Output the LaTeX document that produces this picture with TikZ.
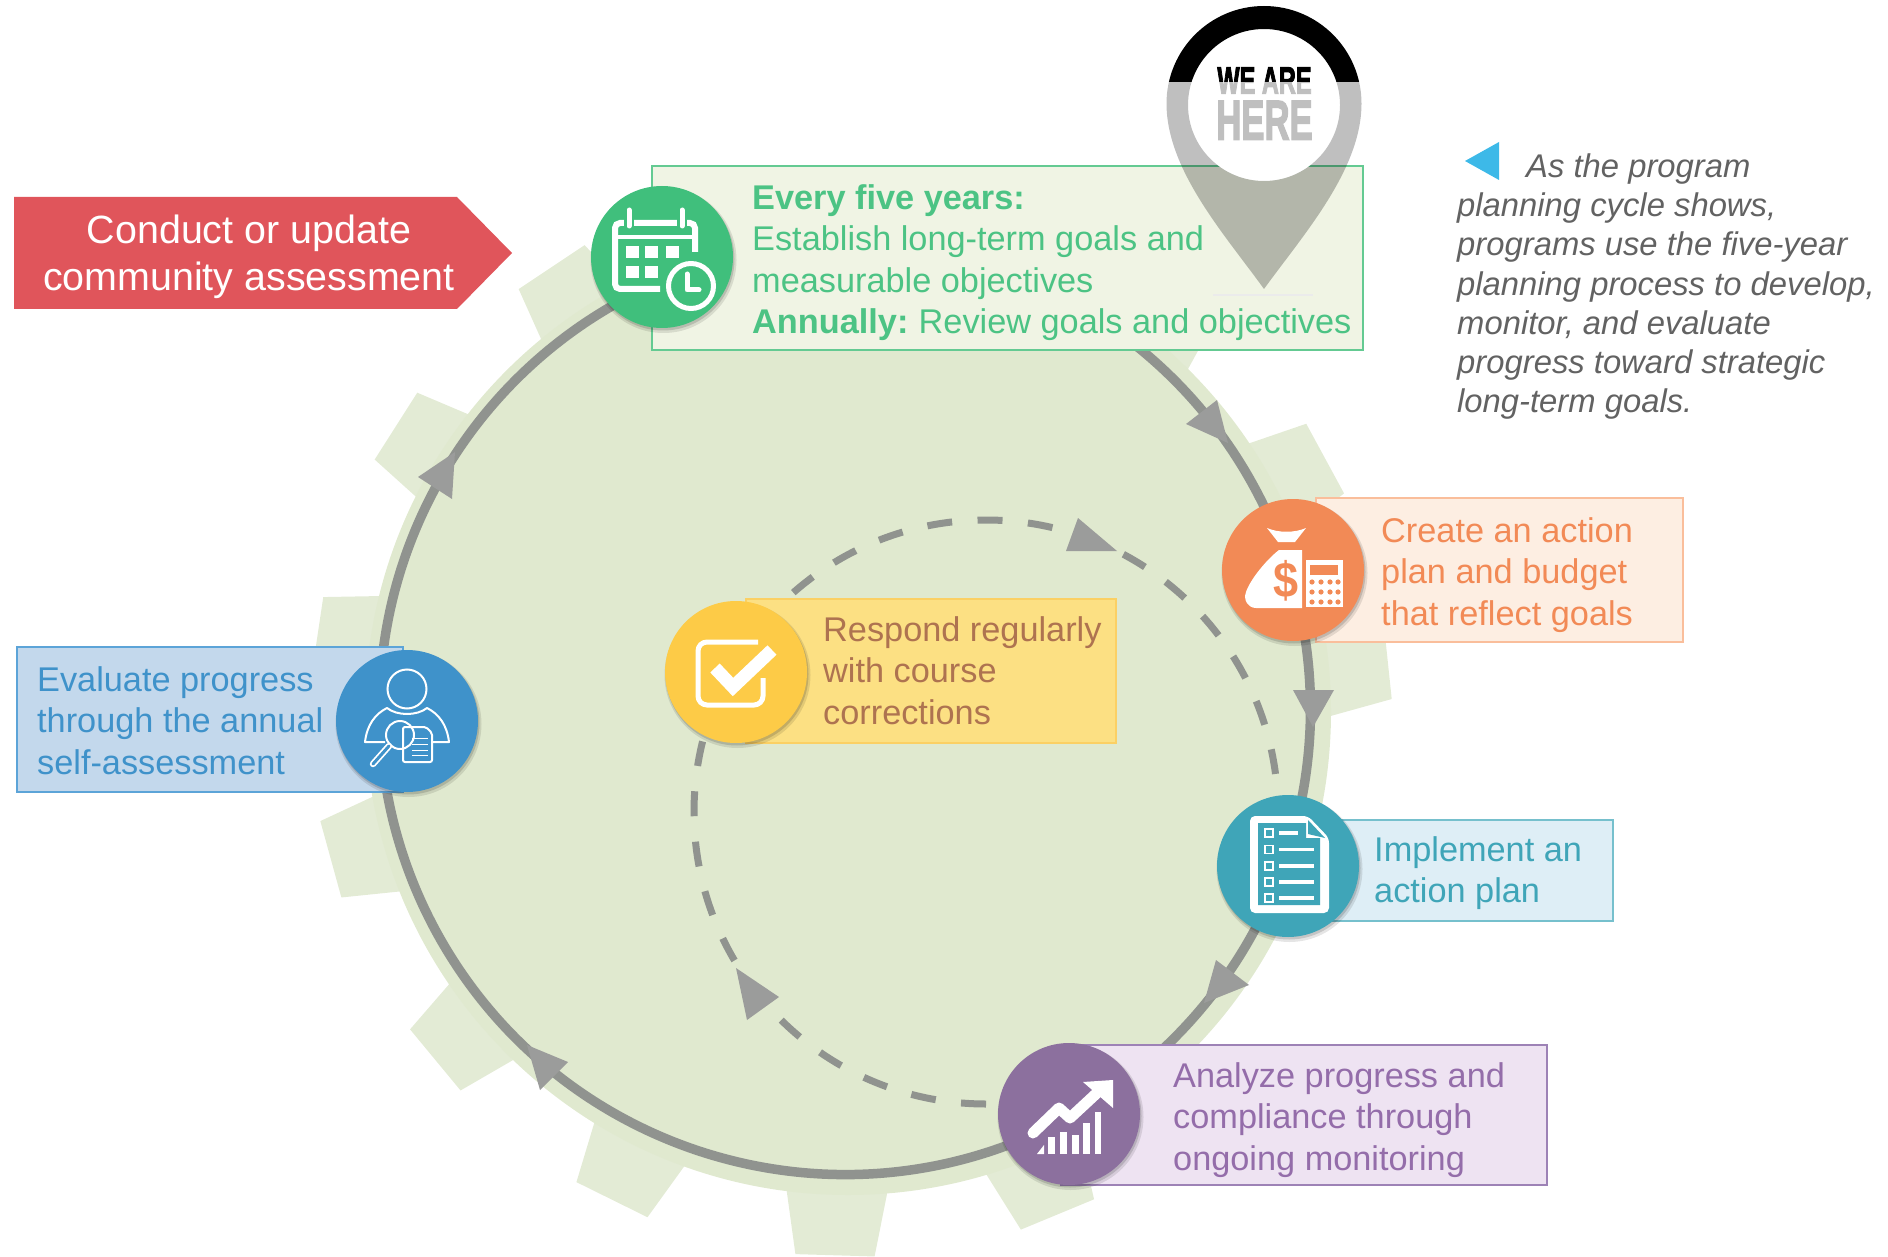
\documentclass[tikz,border=0pt]{standalone}
\usepackage{fontspec}
\setmainfont{Liberation Sans}
\newfontfamily\heavyf[BoldFeatures={FakeBold=3}]{Liberation Sans}
\usetikzlibrary{calc}
\definecolor{gear}{HTML}{E0E9CF}
\definecolor{tooth}{HTML}{E3EBD5}
\definecolor{ringc}{HTML}{90938F}
\definecolor{tipc}{HTML}{9B9C9B}
\definecolor{cgreen}{HTML}{40BF7C}
\definecolor{corange}{HTML}{F28A56}
\definecolor{cteal}{HTML}{3FA5B8}
\definecolor{cpurple}{HTML}{8C709E}
\definecolor{cblue}{HTML}{3F92CA}
\definecolor{cyellow}{HTML}{FDCB47}
\definecolor{tyellow}{HTML}{AE7350}
\definecolor{tgreenc}{HTML}{4CC384}
\definecolor{tpurplec}{HTML}{946DAA}
\tikzset{
  disc/.style={circle,minimum size=142,inner sep=0,draw=none},
  panel/.style={rectangle,anchor=north west,inner sep=0,line width=2.4},
  lbl/.style={anchor=north west,inner sep=0,align=left,font=\fontsize{34.3}{41.6}\selectfont},
  ringline/.style={draw=ringc,line width=9.5},
  dashline/.style={draw=ringc,line width=7,dash pattern=on 25 off 25.5},
  head/.style={fill=tipc},
  ico/.style={draw=white,fill=none,line width=5},
  thin/.style={draw=white,fill=none,line width=2}
}
\newcommand{\toothat}[1]{%
  \fill[tooth] ($(851,716)+(#1-6.5:465)$) -- ($(851,716)+(#1-4.2:541)$) -- ($(851,716)+(#1+4.2:541)$) -- ($(851,716)+(#1+6.5:465)$) -- cycle;}
\newcommand{\discshadow}[2]{%
  \fill[black,opacity=.10] (#1+1.5,#2+3) circle[radius=73];
  \fill[black,opacity=.14] (#1+1,#2+2) circle[radius=71.5];}
\begin{document}
\begin{tikzpicture}[x=1pt,y=-1pt]
\useasboundingbox (0,0) rectangle (1888,1257);
% gear
\foreach \a in {-6,67.5,91.7,116.3,140.4,164.6,188.5,212.5,236.3,260.3,284.3,308.3,331.5}{\toothat{\a}}
\fill[gear] (848,712) circle[radius=483];
% cycle coordinates
\coordinate (rc) at (845,709);
\coordinate (dc) at (986,812);
\coordinate (r1) at ($(rc)+(248:465.5)$);
\coordinate (r2) at ($(rc)+(343:465.5)$);
\coordinate (r3) at ($(rc)+(19.5:465.5)$);
\coordinate (r4) at ($(rc)+(61:465.5)$);
\coordinate (r5) at ($(rc)+(178.4:465.5)$);
\coordinate (d1) at ($(dc)+(90:292)$);
\draw[ringline] (r1) arc[start angle=248,end angle=343,radius=465.5];
\draw[ringline] (r2) arc[start angle=343,end angle=379.5,radius=465.5];
\draw[ringline] (r3) arc[start angle=19.5,end angle=61,radius=465.5];
\draw[ringline] (r4) arc[start angle=61,end angle=178.4,radius=465.5];
\draw[ringline] (r5) arc[start angle=178.4,end angle=248,radius=465.5];
\draw[dashline] (d1) arc[start angle=90,end angle=353,radius=292];
% arrowheads
\fill[head] (1217,400) -- (1186,424) -- (1228,443) -- cycle;
\fill[head] (1293,690) -- (1334,690) -- (1313,727) -- cycle;
\fill[head] (1216,960) -- (1249,985) -- (1204,1003) -- cycle;
\fill[head] (568,1062) -- (540,1090) -- (527,1045) -- cycle;
\fill[head] (418,477) -- (452,499) -- (455,452) -- cycle;
\fill[head] (747,1020) -- (779,997) -- (736,968) -- cycle;
\fill[head] (1078,518) -- (1066,551) -- (1117,551) -- cycle;
% red banner
\fill[fill={rgb,255:red,224;green,85;blue,91}] (14,197) -- (457,197) -- (512,253) -- (457,309) -- (14,309) -- cycle;
\node[inner sep=0,align=center,text=white,font=\fontsize{39.4}{47}\selectfont] (redlabel) at (249,256.5) {Conduct or update\\community assessment};
% panels
\node[panel,draw={rgb,255:red,100;green,202;blue,146},fill={rgb,255:red,240;green,244;blue,228},minimum width=711,minimum height=184] (pgreen) at (651,165) {};
\node[panel,draw={rgb,255:red,250;green,190;blue,155},fill={rgb,255:red,253;green,238;blue,226},minimum width=367,minimum height=143.5] (porange) at (1315,497) {};
\node[panel,draw={rgb,255:red,118;green,192;blue,205},fill={rgb,255:red,222;green,238;blue,246},minimum width=297,minimum height=100.5] (pteal) at (1315,819) {};
\node[panel,draw={rgb,255:red,157;green,130;blue,182},fill={rgb,255:red,238;green,227;blue,242},minimum width=486,minimum height=139.5] (ppurple) at (1060,1044) {};
\node[panel,draw={rgb,255:red,92;green,164;blue,216},fill={rgb,255:red,195;green,216;blue,236},minimum width=386,minimum height=144.5] (pblue) at (16,646) {};
\node[panel,draw={rgb,255:red,251;green,208;blue,100},fill={rgb,255:red,252;green,224;blue,131},minimum width=370,minimum height=143.5] (pyellow) at (745,598) {};
% labels
\node[lbl,text=tgreenc] (tgreen) at (752,184) {\textbf{Every five years:}\\Establish long-term goals and\\measurable objectives\\\textbf{Annually:}\hspace{-2.5pt} Review goals and objectives};
\node[lbl,text=corange] (torange) at (1381,517) {Create an action\\plan and budget\\that reflect goals};
\node[lbl,text=cteal] (tteal) at (1374,836) {Implement an\\action plan};
\node[lbl,text=tpurplec] (tpurple) at (1173,1062) {Analyze progress and\\compliance through\\ongoing monitoring};
\node[lbl,text=cblue] (tblue) at (37,666) {Evaluate progress\\through the annual\\self-assessment};
\node[lbl,text=tyellow] (tyellowl) at (823,616) {Respond regularly\\with course\\corrections};
% circles
\discshadow{662}{257}\discshadow{1293}{570}\discshadow{1288}{866}\discshadow{1069}{1114}\discshadow{407}{721}\discshadow{736}{672}
\node[disc,fill=cgreen] (cgreenn) at (662,257) {};
\node[disc,fill=corange] (corangen) at (1293,570) {};
\node[disc,fill=cteal] (ctealn) at (1288,866) {};
\node[disc,fill=cpurple] (cpurplen) at (1069,1114) {};
\node[disc,fill=cblue] (cbluen) at (407,721) {};
\node[disc,fill=cyellow] (cyellown) at (736,672) {};
% calendar icon
\draw[ico,line width=6,rounded corners=5] (695,252) -- (695,223) -- (615,223) -- (615,289) -- (660,289);
\draw[ico,line width=4] (615,237) -- (695,237);
\foreach \x in {629,682}{\draw[cgreen,line width=10,line cap=round] (\x,210) -- (\x,226);\draw[white,line width=5,line cap=round] (\x,210) -- (\x,226);}
\foreach \x in {626,645,666}{\fill[white] (\x,246) rectangle (\x+12.5,258);}
\foreach \x in {626,645}{\fill[white] (\x,266) rectangle (\x+12.5,278);}
\draw[white,fill=cgreen,line width=5] (691,286) circle[radius=22.5];
\draw[white,line width=5,line cap=round,line join=round] (687,274) -- (687,290) -- (699,290);
% money bag icon
\fill[white] (1267,528) .. controls (1278,533) and (1295,533) .. (1306,528) -- (1295,542) -- (1278,542) -- cycle;
\fill[white] (1279,550) -- (1302,550) -- (1302,608) -- (1256,608) .. controls (1248,608) and (1243,600) .. (1246,592) .. controls (1250,580) and (1266,560) .. (1279,550) -- cycle;
\node[inner sep=0,xscale=.9,text=corange,font=\fontsize{50}{50}\selectfont\bfseries] (dollar) at (1286,581) {\$};
\fill[white] (1306,560) rectangle (1343,607);
\fill[corange] (1310,565) rectangle (1338,575);
\foreach \y in {582,592,602}{\foreach \x in {1312,1321,1330,1338}{\fill[corange] (\x,\y) circle[radius=2.6];}}
% document icon
\fill[white,rounded corners=5] (1250,816) -- (1308,816) -- (1329,838) -- (1329,913) -- (1250,913) -- cycle;
\fill[cteal] (1258,823) -- (1306,823) -- (1306,838) -- (1320,838) -- (1320,905) -- (1258,905) -- cycle;
\fill[cteal] (1308,820) -- (1325,838) -- (1308,834) -- cycle;
\foreach \y/\e in {833/1298,849.5/1314,866/1314,882/1314,898/1314}{
  \draw[white,line width=3.2] (1279,\y) -- (\e,\y);
  \draw[white,line width=1.4] (1265,\y-4) rectangle (1273,\y+4);}
% chart icon
\fill[white] (1037,1154) -- (1044,1145) -- (1044,1154) -- cycle;
\fill[white] (1048,1137) rectangle (1055,1154);
\fill[white] (1060,1132) rectangle (1067,1154);
\fill[white] (1072,1135) rectangle (1079,1154);
\fill[white] (1083,1123) rectangle (1090,1154);
\fill[white] (1095,1112) rectangle (1101,1154);
\draw[cpurple,line width=17,line join=round] (1033,1133) -- (1059,1108) -- (1070,1118) -- (1098,1092);
\draw[white,line width=11,line cap=round,line join=round] (1033,1133) -- (1059,1108) -- (1070,1118) -- (1098,1092);
\fill[white] (1083,1082) -- (1113,1080) -- (1113,1108) -- cycle;
% checkbox icon
\draw[white,line width=5,rounded corners=9] (758,642) -- (698,642) -- (698,705) -- (763,705) -- (763,678);
\draw[cyellow,line width=20] (715,668) -- (733,687) -- (772,650);
\draw[white,line width=13] (715,668) -- (733,687) -- (772,650);
% person icon
\draw[thin] (407,689) circle[radius=19.5];
\draw[thin,line join=round] (385,742) -- (365,742) .. controls (367,725) and (375,714) .. (387,708) .. controls (397,716) and (417,716) .. (427,708) .. controls (439,714) and (447,725) .. (449,742) -- (432,742);
\draw[thin,fill=cblue,rounded corners=2] (403,727) -- (426,727) -- (432,733) -- (432,762) -- (403,762) -- cycle;
\foreach \y in {738,744,750,755}{\draw[white,line width=1] (412,\y) -- (428,\y);}
\draw[thin] (400,735) circle[radius=14];
\draw[white,line width=6.5,line cap=round] (389,746) -- (373,764);
\draw[cblue,line width=3,line cap=round] (389,746) -- (373,764);
% note
\fill[fill={rgb,255:red,61;green,185;blue,232}] (1465,161) -- (1499,142) -- (1499,180) -- cycle;
\node[anchor=north west,inner sep=0,align=left,text={rgb,255:red,98;green,98;blue,98},font=\fontsize{32.8}{39.2}\selectfont\itshape] (note) at (1457,153.5) {\hspace*{69pt}As the program\\planning cycle shows,\\programs use the five-year\\planning process to develop,\\monitor, and evaluate\\progress toward strategic\\long-term goals.};
% location pin
\fill[white] (1264,105) circle[radius=76];
\begin{scope}
\clip (1150,0) rectangle (1380,82);
\fill[black,even odd rule] (1264,103.5) circle[radius=97.5] (1264,105) circle[radius=76];
\end{scope}
\begin{scope}
\clip (1150,82) rectangle (1380,300);
\fill[black,opacity=.25,even odd rule] (1166.5,103.5) arc[start angle=180,end angle=360,radius=97.5] .. controls (1361.5,170) and (1303,235) .. (1264,289) .. controls (1225,235) and (1166.5,170) .. (1166.5,103.5) -- cycle (1264,105) circle[radius=76];
\end{scope}
\draw[black!8,line width=1.2] (1213,295) -- (1313,295);
\node[inner sep=0,xscale=.62,align=center,font=\fontsize{38}{46}\selectfont\heavyf\bfseries] (pinlabel) at (1264.5,103.5) {WE ARE\\{\fontsize{56}{46}\selectfont HERE}};
\fill[white,opacity=.75] (1205,82) rectangle (1323,150);
\end{tikzpicture}
\end{document}
